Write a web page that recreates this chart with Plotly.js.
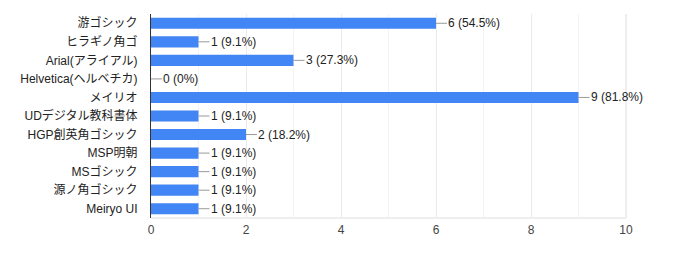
<!DOCTYPE html>
<html>
<head>
<meta charset="utf-8">
<script src="https://cdn.plot.ly/plotly-3.0.1.min.js"></script>
<style>html,body{margin:0;padding:0;background:#fff;}#chart{width:682px;height:253px;}</style>
</head>
<body>
<div id="chart"></div>
<script>
var categories = ["游ゴシック","ヒラギノ角ゴ","Arial(アライアル)","Helvetica(ヘルベチカ)","メイリオ","UDデジタル教科書体","HGP創英角ゴシック","MSP明朝","MSゴシック","源ノ角ゴシック","Meiryo UI"];
var counts = [6,1,3,0,9,1,2,1,1,1,1];
var valueLabels = ["6 (54.5%)","1 (9.1%)","3 (27.3%)","0 (0%)","9 (81.8%)","1 (9.1%)","2 (18.2%)","1 (9.1%)","1 (9.1%)","1 (9.1%)","1 (9.1%)"];
var xTicks = [0,2,4,6,8,10];

var FONT = "Arial, 'Liberation Sans', 'Noto Sans CJK JP', sans-serif";

var annotations = categories.map(function(c,i){
  return {x: counts[i], y: c, xref:'x', yref:'y', text: valueLabels[i],
    showarrow:true, arrowhead:0, arrowwidth:1, arrowcolor:'#999999',
    ax: 11, ay: 0, xanchor:'left', yanchor:'middle', standoff:0, startstandoff:0,
    borderpad:0, font:{family:FONT,size:12,color:'#222222'}};
});

var minorGrid = [1,3,5,7,9].map(function(v){
  return {type:'line', xref:'x', yref:'paper', x0:v, x1:v, y0:0, y1:1, line:{color:'#f3f3f3',width:1}, layer:'below'};
});
var shapes = minorGrid.concat([
  {type:'line', xref:'paper', yref:'paper', x0:0, x1:1, y0:0, y1:0, line:{color:'#eeeeee',width:2}, layer:'below'},
  {type:'line', xref:'paper', yref:'paper', x0:1, x1:1, y0:0, y1:1, line:{color:'#eeeeee',width:2}, layer:'below'}
]);

Plotly.newPlot('chart', [{
  type:'bar', orientation:'h', x: counts, y: categories,
  marker:{color:'#4285f4'}, width:0.6, hoverinfo:'none'
}], {
  width:682, height:253,
  margin:{l:151, r:56, t:14, b:35},
  paper_bgcolor:'#ffffff', plot_bgcolor:'#ffffff',
  showlegend:false,
  xaxis:{range:[0,10], tickvals:xTicks, ticktext:xTicks.map(String), showgrid:true, gridcolor:'#ebebeb', gridwidth:1,
    zeroline:false, showline:false, ticks:'', ticklabelstandoff:3, tickfont:{family:FONT,size:12,color:'#444444'}, fixedrange:true},
  yaxis:{type:'category', autorange:'reversed', showgrid:false, zeroline:false, showline:true, linecolor:'#333333', linewidth:1,
    ticks:'', ticklabelstandoff:10, tickfont:{family:FONT,size:12,color:'#222222'}, fixedrange:true},
  annotations: annotations,
  shapes: shapes,
  font:{family:FONT}
}, {staticPlot:true, displayModeBar:false});
</script>
</body>
</html>
